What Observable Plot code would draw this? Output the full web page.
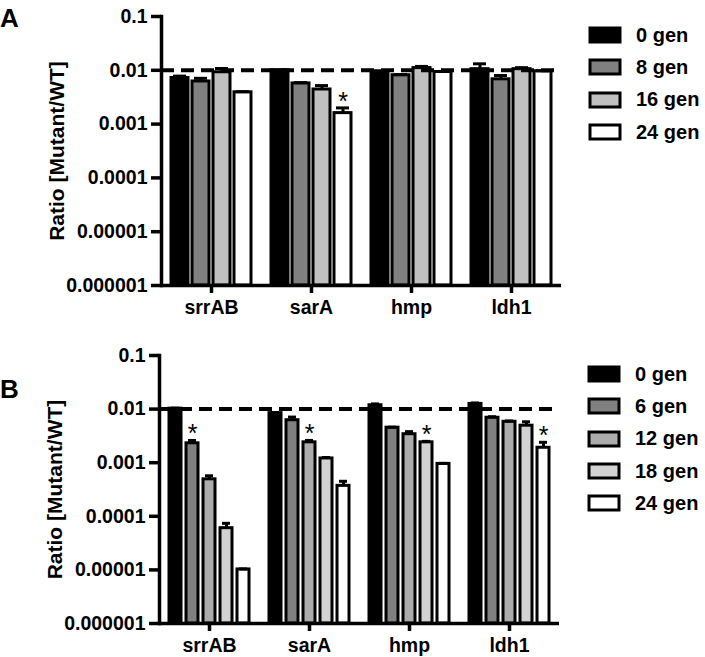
<!DOCTYPE html>
<html><head><meta charset="utf-8">
<script src="https://cdn.jsdelivr.net/npm/d3@7"></script>
<script src="https://cdn.jsdelivr.net/npm/@observablehq/plot@0.6"></script>
<style>
body{margin:0;background:#fff;font-family:"Liberation Sans",Arial,sans-serif;}
.panel{position:relative;width:705px;overflow:hidden;}
.panel svg{display:block;}
.letter{position:absolute;left:0;font:bold 26px "Liberation Sans",Arial,sans-serif;line-height:26px;color:#000;}
.leg{position:absolute;}
.leg .lg-swatches{margin:0 !important;min-height:0 !important;}
div.lg-swatches-columns .lg-swatch{height:32.3px;padding:0 !important;margin:0 !important;display:flex;align-items:center;font:bold 20px "Liberation Sans",Arial,sans-serif;color:#000;}
div.lg-swatches-columns .lg-swatch svg{margin-right:16px !important;overflow:visible !important;}
div.lg-swatches-columns .lg-swatch svg rect{stroke:#000;stroke-width:3px;}
</style>
</head><body>
<div class="panel" id="pA" style="height:320px"></div>
<div class="panel" id="pB" style="height:337px"></div>
<script>
// ---- data ----
const genes = ["srrAB", "sarA", "hmp", "ldh1"];
const gensA = ["0 gen", "8 gen", "16 gen", "24 gen"];
const colorsA = ["#000000", "#808080", "#c0c0c0", "#ffffff"];
// rows: genes, columns: generations
const valuesA = [
  [0.0072, 0.0062, 0.0092, 0.0039],
  [0.0100, 0.0057, 0.0044, 0.0016],
  [0.0093, 0.0081, 0.0110, 0.0093],
  [0.0105, 0.0068, 0.0105, 0.0096]
];
const errorsA = [
  [0.0078, 0.0071, 0.0108, 0.0040],
  [0.0102, 0.0059, 0.0052, 0.0020],
  [0.0098, 0.0083, 0.0118, 0.0095],
  [0.0132, 0.0080, 0.0112, 0.0098]
];
const starsA = [["sarA", "24 gen"]];

const gensB = ["0 gen", "6 gen", "12 gen", "18 gen", "24 gen"];
const colorsB = ["#000000", "#808080", "#acacac", "#d2d2d2", "#ffffff"];
const valuesB = [
  [0.0102, 0.0023, 0.00049, 0.000060, 0.0000102],
  [0.0084, 0.0062, 0.0024, 0.0012, 0.00037],
  [0.0118, 0.0045, 0.0034, 0.0024, 0.00095],
  [0.0125, 0.0069, 0.0058, 0.0049, 0.0019]
];
const errorsB = [
  [0.0104, 0.0026, 0.00057, 0.000074, 0.0000104],
  [0.0086, 0.0071, 0.0026, 0.00125, 0.00045],
  [0.0125, 0.0046, 0.0038, 0.0025, 0.00097],
  [0.0130, 0.0072, 0.0060, 0.0058, 0.0024]
];
const starsB = [["srrAB", "6 gen"], ["sarA", "12 gen"], ["hmp", "18 gen"], ["ldh1", "24 gen"]];

const yTicks = [1e-6, 1e-5, 1e-4, 1e-3, 1e-2, 1e-1];
const yTickLabels = ["0.000001", "0.00001", "0.0001", "0.001", "0.01", "0.1"];
const yTitle = "Ratio [Mutant/WT]";
const refLine = 0.01;

// ---- build ----
function table(gens, vals, errs) {
  const out = [];
  genes.forEach((g, i) => gens.forEach((n, j) => out.push({gene: g, gen: n, value: vals[i][j], err: errs[i][j]})));
  return out;
}
const tickLabel = new Map(yTicks.map((t, i) => [t, yTickLabels[i]]));

function panel(o) {
  const data = table(o.gens, o.values, o.errors);
  const stars = data.filter(d => o.stars.some(s => s[0] === d.gene && s[1] === d.gen));
  return Plot.plot({
    width: 705, height: o.height,
    marginTop: o.mt, marginBottom: o.mb, marginLeft: o.ml, marginRight: o.mr,
    style: {fontFamily: "Liberation Sans, Arial, sans-serif", fontSize: "19px", fontWeight: "bold", color: "#000", background: "#fff", overflow: "visible"},
    fx: {domain: genes, padding: 0, label: null},
    x: {domain: o.gens, paddingInner: o.pi, paddingOuter: o.po, axis: null},
    y: {type: "log", domain: [1e-6, 0.1], label: null},
    color: {domain: o.gens, range: o.colors},
    marks: [
      Plot.barY(data, {fx: "gene", x: "gen", y1: 1e-6, y2: "value", fill: "gen", stroke: "#000", strokeWidth: 3}),
      Plot.ruleX(data, {fx: "gene", x: "gen", y1: "value", y2: "err", stroke: "#000", strokeWidth: 3}),
      Plot.tickY(data, {fx: "gene", x: "gen", y: "err", stroke: "#000", strokeWidth: 3, insetLeft: 2, insetRight: 2}),
      Plot.ruleY([refLine], {stroke: "#000", strokeWidth: 4, strokeDasharray: "13,7"}),
      Plot.ruleY([1e-6], {stroke: "#000", strokeWidth: 3.5}),
      Plot.frame({anchor: "left", facetAnchor: "left", stroke: "#000", strokeWidth: 3.5}),
      Plot.axisY({ticks: yTicks, tickFormat: d => tickLabel.get(d), tickSize: 10, tickPadding: 4, stroke: "#000", strokeWidth: 3.5, label: null, fontSize: 19.5}),
      Plot.axisFx({anchor: "bottom", tickSize: 8, tickPadding: 7, stroke: "#000", strokeWidth: 3.5, label: null, fontSize: 19.5}),
      Plot.text(stars, {fx: "gene", x: "gen", y: "err", text: () => "*", dy: -6, fontSize: 25, fontWeight: "normal"}),
      Plot.text([yTitle], {frameAnchor: "left", textAnchor: "middle", rotate: -90, dx: -104, fontSize: 21, facetAnchor: "left"})
    ]
  });
}

function addPanel(id, letter, letterTop, o, legTop, legLeft) {
  const el = document.getElementById(id);
  el.appendChild(panel(o));
  const L = document.createElement("div");
  L.className = "letter"; L.style.top = letterTop + "px"; L.textContent = letter;
  el.appendChild(L);
  const leg = Plot.legend({
    color: {type: "ordinal", domain: o.gens, range: o.colors},
    legend: "swatches", columns: 1, swatchWidth: 30, swatchHeight: 14, className: "lg"
  });
  const wrap = document.createElement("div");
  wrap.className = "leg"; wrap.style.top = legTop + "px"; wrap.style.left = legLeft + "px";
  wrap.appendChild(leg);
  el.appendChild(wrap);
}

addPanel("pA", "A", 5, {gens: gensA, colors: colorsA, values: valuesA, errors: errorsA, stars: starsA,
  height: 320, mt: 16, mb: 35, ml: 159, mr: 143, pi: 0.209, po: 0.448}, 19, 590);
addPanel("pB", "B", 56, {gens: gensB, colors: colorsB, values: valuesB, errors: errorsB, stars: starsB,
  height: 337, mt: 35, mb: 34, ml: 158, mr: 145, pi: 0.286, po: 0.514}, 38, 589);
</script>
</body></html>
